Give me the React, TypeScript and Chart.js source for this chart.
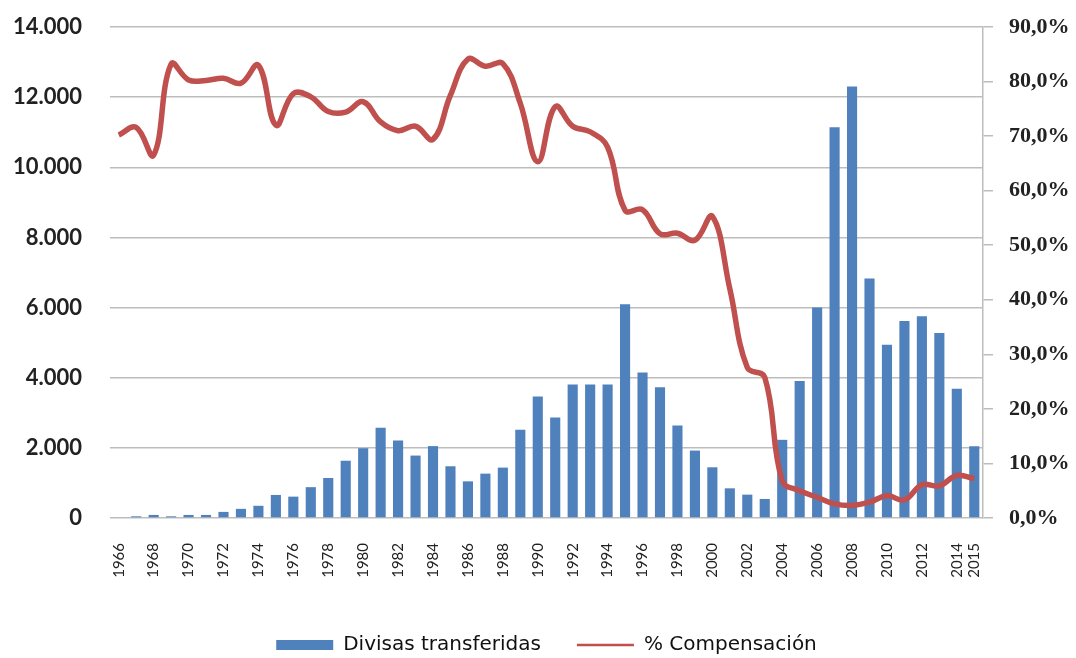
import React, { useEffect, useRef } from "react";
import { Chart, registerables } from "chart.js";

Chart.register(...registerables);

const years = [
  "1966", "1967", "1968", "1969", "1970", "1971", "1972", "1973", "1974", "1975",
  "1976", "1977", "1978", "1979", "1980", "1981", "1982", "1983", "1984", "1985",
  "1986", "1987", "1988", "1989", "1990", "1991", "1992", "1993", "1994", "1995",
  "1996", "1997", "1998", "1999", "2000", "2001", "2002", "2003", "2004", "2005",
  "2006", "2007", "2008", "2009", "2010", "2011", "2012", "2013", "2014", "2015",
];

const divisasTransferidas = [
  0, 48, 87, 48, 87, 87, 174, 261, 348, 657,
  609, 879, 1140, 1633, 1990, 2570, 2210, 1780, 2050, 1475,
  1045, 1265, 1437, 2514, 3466, 2866, 3809, 3809, 3809, 6094,
  4151, 3727, 2640, 1923, 1446, 846, 666, 543, 2229, 3903,
  6000, 11143, 12303, 6829, 4943, 5617, 5751, 5274, 3686, 2046,
];

const compensacion = [
  70.2, 71.6, 66.5, 83.2, 80.3, 80.2, 80.6, 79.7, 83.0, 72.0,
  77.8, 77.2, 74.5, 74.4, 76.3, 72.6, 71.0, 71.8, 69.4, 77.5,
  84.1, 82.8, 83.3, 76.0, 65.3, 75.4, 71.8, 70.8, 68.0, 56.4,
  56.5, 52.1, 52.2, 50.9, 55.3, 42.0, 27.6, 25.8, 6.8, 5.0,
  3.8, 2.6, 2.3, 2.9, 4.1, 3.3, 6.1, 5.9, 7.8, 7.2,
];

const seriesNames = ["Divisas transferidas", "% Compensación"];

const BLUE = "#4F81BD";
const RED = "#C0504D";
const GRID = "#BDBDBD";

export default function App() {
  const canvasRef = useRef<HTMLCanvasElement | null>(null);

  useEffect(() => {
    if (!canvasRef.current) return;
    const chart = new Chart(canvasRef.current, {
      type: "bar",
      data: {
        labels: years,
        datasets: [
          {
            type: "bar",
            label: seriesNames[0],
            data: divisasTransferidas,
            backgroundColor: BLUE,
            yAxisID: "y",
            categoryPercentage: 1,
            barPercentage: 0.58,
            order: 2,
          },
          {
            type: "line",
            label: seriesNames[1],
            data: compensacion,
            borderColor: RED,
            backgroundColor: RED,
            borderWidth: 5.5,
            pointRadius: 0,
            tension: 0.4,
            yAxisID: "y1",
            order: 1,
          },
        ],
      },
      options: {
        animation: false,
        responsive: true,
        maintainAspectRatio: false,
        layout: { padding: { top: 27, bottom: -7, left: 0, right: 0 } },
        plugins: {
          tooltip: { enabled: false },
          legend: {
            position: "bottom",
            fullSize: false,
            labels: {
              usePointStyle: true,
              pointStyleWidth: 57,
              boxHeight: 10,
              padding: 36,
              color: "#111",
              font: { family: "DejaVu Sans", size: 20 },
              sort: (a: any, b: any) => a.datasetIndex - b.datasetIndex,
              generateLabels: (c: any) => {
                const base = Chart.defaults.plugins.legend.labels.generateLabels(c);
                return base.map((l: any) => {
                  const isBar = l.datasetIndex === 0;
                  return {
                    ...l,
                    pointStyle: isBar ? "rect" : "line",
                    lineWidth: isBar ? 0 : 2.5,
                    strokeStyle: isBar ? BLUE : RED,
                    fillStyle: isBar ? BLUE : RED,
                  };
                });
              },
            },
          },
        },
        scales: {
          x: {
            grid: { display: false },
            border: { display: false },
            ticks: {
              autoSkip: false,
              maxRotation: 90,
              minRotation: 90,
              padding: 17,
              color: "#222",
              font: { family: "Lato", size: 15 },
              callback: (_v: any, idx: number) => {
                const yr = parseInt(years[idx], 10);
                return yr % 2 === 0 || idx === years.length - 1 ? years[idx] : "";
              },
            },
            afterFit: (s: any) => {
              s.height = 81;
            },
          },
          y: {
            position: "left",
            min: 0,
            max: 14000,
            grid: {
              color: GRID,
              lineWidth: 1.5,
              drawTicks: true,
              tickLength: 28,
              tickColor: "rgba(0,0,0,0)",
            },
            border: { display: false },
            ticks: {
              stepSize: 2000,
              padding: 0,
              color: "#222",
              font: { family: "Lato", size: 22, weight: "bold", lineHeight: 0.8 },
              callback: (v: any) =>
                Number(v)
                  .toFixed(0)
                  .replace(/\B(?=(\d{3})+(?!\d))/g, "."),
            },
            afterFit: (s: any) => {
              s.width = 110;
            },
          },
          y1: {
            position: "right",
            min: 0,
            max: 90,
            grid: {
              drawOnChartArea: false,
              color: GRID,
              lineWidth: 1.5,
              tickLength: 10,
            },
            border: { display: true, color: GRID, width: 1.5 },
            ticks: {
              stepSize: 10,
              padding: 16,
              color: "#222",
              font: { family: "Liberation Serif", size: 22, weight: "bold", lineHeight: 0.8 },
              callback: (v: any) => Number(v).toFixed(1).replace(".", ",") + "%",
            },
            afterFit: (s: any) => {
              s.width = 93;
            },
          },
        },
      },
    });
    return () => chart.destroy();
  }, []);

  return (
    <div
      style={{
        position: "absolute",
        left: 0,
        top: 0,
        width: 1076,
        height: 658,
        background: "#fff",
      }}
    >
      <canvas ref={canvasRef} />
    </div>
  );
}
